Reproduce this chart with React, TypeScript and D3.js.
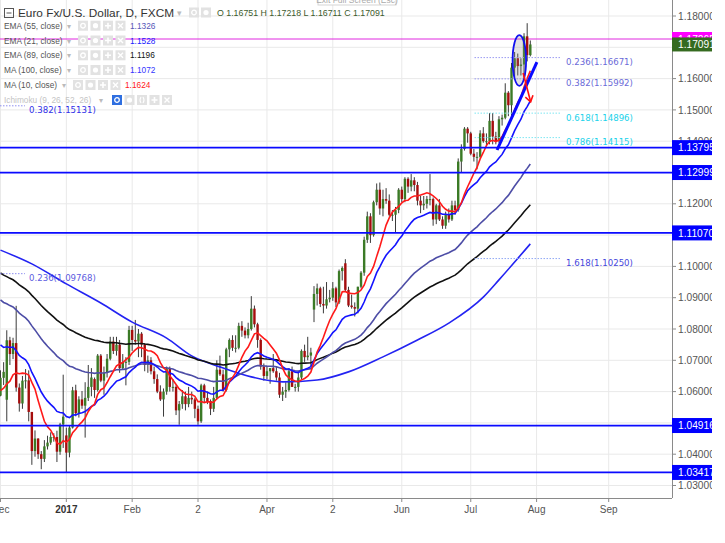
import React from "react";
import * as d3 from "d3";

// ---------- DATA (EUR/USD daily, FXCM) rows: [open, high, low, close] ----------
const dec2016: number[][] = [
  [1.0587, 1.0668, 1.0585, 1.0644], [1.0644, 1.0694, 1.0621, 1.0663], [1.0574, 1.0796, 1.0505, 1.0764],
  [1.0764, 1.0775, 1.0685, 1.072], [1.072, 1.0772, 1.0704, 1.0755], [1.0755, 1.0874, 1.06, 1.0613],
  [1.0613, 1.0626, 1.0536, 1.0562], [1.0562, 1.065, 1.0545, 1.0635], [1.0635, 1.0672, 1.061, 1.0636],
  [1.0636, 1.0668, 1.0505, 1.0535], [1.0535, 1.0535, 1.0366, 1.041], [1.041, 1.0476, 1.0392, 1.045],
  [1.045, 1.0451, 1.0385, 1.04], [1.04, 1.041, 1.0352, 1.0385], [1.0385, 1.0445, 1.0375, 1.0425],
  [1.0425, 1.0459, 1.0415, 1.0437], [1.0437, 1.047, 1.043, 1.0455], [1.0455, 1.0467, 1.044, 1.0455],
  [1.0455, 1.0475, 1.0375, 1.0408], [1.0408, 1.05, 1.0398, 1.0495], [1.0495, 1.0654, 1.042, 1.052],
];
const jan2017: number[][] = [
  [1.046, 1.0485, 1.0341, 1.0405], [1.0405, 1.0493, 1.039, 1.0485], [1.0485, 1.0615, 1.0482, 1.0604],
  [1.0604, 1.0622, 1.0521, 1.0531], [1.0531, 1.0585, 1.0517, 1.0575], [1.0575, 1.0602, 1.0545, 1.0555],
  [1.0555, 1.063, 1.0453, 1.058], [1.058, 1.0685, 1.057, 1.0615], [1.0615, 1.0675, 1.0585, 1.0645],
  [1.064, 1.0645, 1.058, 1.0605], [1.0605, 1.072, 1.06, 1.0715], [1.0715, 1.072, 1.063, 1.0635],
  [1.0635, 1.068, 1.059, 1.066], [1.066, 1.072, 1.0645, 1.0705], [1.0705, 1.0775, 1.07, 1.076],
  [1.076, 1.0775, 1.072, 1.073], [1.073, 1.0775, 1.0715, 1.075], [1.075, 1.0765, 1.066, 1.0675],
  [1.0675, 1.072, 1.067, 1.0695], [1.0695, 1.071, 1.062, 1.0695], [1.0695, 1.081, 1.0685, 1.0797],
];
const feb2017: number[][] = [
  [1.0797, 1.081, 1.073, 1.0765], [1.0765, 1.0829, 1.075, 1.076], [1.076, 1.08, 1.071, 1.0785],
  [1.0785, 1.079, 1.071, 1.075], [1.075, 1.0755, 1.0665, 1.0685], [1.0685, 1.0715, 1.066, 1.07],
  [1.07, 1.071, 1.0655, 1.0665], [1.0665, 1.068, 1.0625, 1.064], [1.064, 1.0655, 1.0595, 1.06],
  [1.06, 1.062, 1.057, 1.0575], [1.0575, 1.061, 1.052, 1.06], [1.06, 1.068, 1.059, 1.0675],
  [1.0675, 1.068, 1.06, 1.0615], [1.0615, 1.064, 1.06, 1.0615], [1.0615, 1.062, 1.0525, 1.054],
  [1.054, 1.057, 1.0494, 1.056], [1.056, 1.0605, 1.0545, 1.0585], [1.0585, 1.06, 1.054, 1.056],
  [1.056, 1.0615, 1.055, 1.058], [1.058, 1.06, 1.056, 1.0575],
];
const mar2017: number[][] = [
  [1.0575, 1.058, 1.0515, 1.0545], [1.0545, 1.0555, 1.0494, 1.0505], [1.0505, 1.0625, 1.05, 1.062],
  [1.062, 1.0625, 1.0565, 1.058], [1.058, 1.06, 1.056, 1.057], [1.057, 1.0575, 1.0525, 1.0545],
  [1.0545, 1.0615, 1.0535, 1.058], [1.058, 1.07, 1.0575, 1.067], [1.067, 1.0715, 1.065, 1.0655],
  [1.0655, 1.067, 1.06, 1.0605], [1.0605, 1.074, 1.06, 1.0735], [1.0735, 1.077, 1.071, 1.0765],
  [1.0765, 1.078, 1.073, 1.074], [1.074, 1.078, 1.0725, 1.074], [1.074, 1.082, 1.0735, 1.081],
  [1.081, 1.0825, 1.0775, 1.0795], [1.0795, 1.0805, 1.077, 1.078], [1.078, 1.082, 1.077, 1.08],
  [1.08, 1.0905, 1.0795, 1.0865], [1.0865, 1.0875, 1.0805, 1.0815], [1.0815, 1.082, 1.074, 1.0765],
  [1.0765, 1.077, 1.067, 1.068], [1.068, 1.069, 1.0635, 1.065],
];
const apr2017: number[][] = [
  [1.065, 1.068, 1.064, 1.0665], [1.0665, 1.0675, 1.0625, 1.0675], [1.0675, 1.072, 1.066, 1.0665],
  [1.0665, 1.068, 1.0635, 1.0645], [1.0645, 1.066, 1.058, 1.059], [1.059, 1.0615, 1.057, 1.06],
  [1.06, 1.063, 1.058, 1.0605], [1.0605, 1.0675, 1.06, 1.0665], [1.0665, 1.068, 1.0615, 1.0615],
  [1.0615, 1.0625, 1.06, 1.0615], [1.0615, 1.0665, 1.06, 1.0645], [1.0645, 1.0735, 1.064, 1.073],
  [1.073, 1.075, 1.0695, 1.071], [1.071, 1.0775, 1.07, 1.0715], [1.0715, 1.074, 1.068, 1.0725],
  [1.0862, 1.0937, 1.0822, 1.0912], [1.0912, 1.0945, 1.0875, 1.093], [1.093, 1.0935, 1.087, 1.088],
  [1.088, 1.0935, 1.085, 1.0875], [1.0875, 1.095, 1.0865, 1.0895],
];
const may2017: number[][] = [
  [1.0895, 1.0925, 1.0885, 1.09], [1.09, 1.095, 1.089, 1.093], [1.093, 1.0935, 1.087, 1.0885],
  [1.0885, 1.099, 1.088, 1.0985], [1.0985, 1.1, 1.0955, 1.0995], [1.101, 1.1023, 1.092, 1.0925],
  [1.0925, 1.0935, 1.087, 1.0875], [1.0875, 1.091, 1.0865, 1.087], [1.087, 1.0885, 1.084, 1.0865],
  [1.0865, 1.0935, 1.085, 1.0935], [1.0935, 1.0985, 1.093, 1.098], [1.098, 1.1095, 1.097, 1.1085],
  [1.1085, 1.1175, 1.1075, 1.116], [1.116, 1.117, 1.1075, 1.11], [1.11, 1.121, 1.1095, 1.1205],
  [1.1205, 1.1265, 1.1195, 1.1245], [1.1245, 1.1268, 1.1165, 1.1185], [1.1185, 1.1245, 1.116, 1.1215],
  [1.1215, 1.125, 1.12, 1.121], [1.121, 1.123, 1.116, 1.1165], [1.1165, 1.118, 1.1145, 1.1165],
  [1.1165, 1.119, 1.111, 1.118], [1.118, 1.125, 1.117, 1.1245],
];
const jun2017: number[][] = [
  [1.1245, 1.1255, 1.1205, 1.1215], [1.1215, 1.1285, 1.1205, 1.128], [1.128, 1.1285, 1.1235, 1.1255],
  [1.1255, 1.1295, 1.124, 1.1275], [1.1275, 1.1285, 1.124, 1.126], [1.126, 1.127, 1.1195, 1.121],
  [1.121, 1.1225, 1.117, 1.1195], [1.1195, 1.1225, 1.118, 1.12], [1.12, 1.1225, 1.1185, 1.1215],
  [1.1215, 1.1295, 1.1195, 1.1215], [1.1215, 1.122, 1.113, 1.115], [1.115, 1.12, 1.1135, 1.1195],
  [1.1195, 1.1215, 1.1145, 1.115], [1.115, 1.116, 1.112, 1.113], [1.113, 1.1175, 1.112, 1.1165],
  [1.1165, 1.1185, 1.114, 1.115], [1.115, 1.121, 1.1145, 1.1195], [1.1195, 1.121, 1.1165, 1.118],
  [1.118, 1.1345, 1.1175, 1.1335], [1.1335, 1.139, 1.13, 1.1375], [1.1375, 1.1445, 1.137, 1.144],
  [1.144, 1.1445, 1.1395, 1.1425],
];
const jul2017: number[][] = [
  [1.1425, 1.143, 1.1355, 1.136], [1.136, 1.1375, 1.1335, 1.135], [1.135, 1.1365, 1.131, 1.135],
  [1.135, 1.1435, 1.1345, 1.1425], [1.1425, 1.1445, 1.1395, 1.14], [1.14, 1.1425, 1.1385, 1.14],
  [1.14, 1.149, 1.139, 1.1465], [1.1465, 1.149, 1.139, 1.1415], [1.1415, 1.143, 1.139, 1.14],
  [1.14, 1.148, 1.1395, 1.147], [1.147, 1.1485, 1.145, 1.1475], [1.1475, 1.1585, 1.147, 1.1555],
  [1.1555, 1.156, 1.148, 1.1515], [1.1515, 1.165, 1.148, 1.1635], [1.1635, 1.1685, 1.1605, 1.1665],
  [1.1665, 1.168, 1.161, 1.164], [1.164, 1.1665, 1.161, 1.1645], [1.1645, 1.1745, 1.1605, 1.1735],
  [1.1735, 1.1777, 1.1655, 1.1675], [1.16751, 1.17218, 1.16711, 1.17091],
];
// closes before Dec 1 2016 (for the 10-day MA warm-up)
const novCloses = [1.0588, 1.0627, 1.0632, 1.0551, 1.0552, 1.059, 1.0615, 1.0645, 1.0589];
// EMA values at the first visible bar
const ema21Seed = 1.0749;
const ema55Seed = 1.0893;
const ema89Seed = 1.0979;
// MA(100) at bar indices
const ma100Idx = [0, 10, 21, 32, 42, 53, 61, 70, 80, 90, 101, 111, 122, 133, 143, 154, 159, 169];
const ma100Val = [1.1052, 1.1008, 1.0944, 1.0883, 1.0822, 1.0771, 1.0714, 1.0679, 1.0647, 1.0631, 1.0637,
  1.0663, 1.0711, 1.0765, 1.0819, 1.0902, 1.0957, 1.1072];

const startDate = "2016-12-01";
const endDate = "2017-09-02";
const skipDates = ["2016-12-26", "2017-01-02"];
const dateTickDates = ["2016-12-01", "2017-01-03", "2017-02-01", "2017-03-02", "2017-04-03", "2017-05-02",
  "2017-06-01", "2017-07-03", "2017-08-01", "2017-09-01"];
const dateTickLabels = ["Dec", "2017", "Feb", "2", "Apr", "2", "Jun", "Jul", "Aug", "Sep"];

const supportLevels = [1.13795, 1.12999, 1.1107, 1.04916, 1.03417];
const magentaLevel = 1.17265;
const rightFibRatios = [0.236, 0.382, 0.618, 0.786, 1.618];
const rightFibPrices = [1.16671, 1.15992, 1.14896, 1.14115, 1.1025];
const leftFibRatios = [0.382, 0.236];
const leftFibPrices = [1.15131, 1.09768];

const legendNames = ["EMA (55, close)", "EMA (21, close)", "EMA (89, close)", "MA (100, close)", "MA (10, close)"];
const legendValues = ["1.1326", "1.1528", "1.1196", "1.1072", "1.1624"];
const headerOHLC = ["1.16751", "1.17218", "1.16711", "1.17091"];

// drawings in data space [barIndex, price]
const trendFrom = [158.4, 1.13719];
const trendTo = [171.1, 1.1653];
const ellipseCenter = [165.5, 1.1658];
const ellipseHalf = [2.15, 0.0081];
const arrowFrom = [166.7, 1.1618];
const arrowTo = [169.1, 1.1526];

// ---------- helpers ----------
function emaSeries(vals: number[], period: number, seed: number) {
  const k = 2 / (period + 1);
  let e = seed;
  return vals.map((v, i) => (i === 0 ? e : (e = e + k * (v - e))));
}
function smaSeries(vals: number[], period: number, prior: number[]) {
  const all = prior.concat(vals);
  return vals.map((_, i) => d3.mean(all.slice(Math.max(0, i + prior.length - period + 1), i + prior.length + 1)) as number);
}

const FONT = "'Liberation Sans', Arial, sans-serif";

function Icon({ x, y, kind, blue }: { x: number; y: number; kind: string; blue?: boolean }) {
  const fill = blue ? "#2f6fe0" : "#e2e2e2";
  const g = "#fff";
  return (
    <g transform={`translate(${x},${y})`}>
      <rect x={0} y={-5} width={10} height={10} fill={fill} />
      {kind === "eye" && <circle cx={5} cy={0} r={2.3} fill="none" stroke={g} strokeWidth={1.3} />}
      {kind === "gear" && <circle cx={5} cy={0} r={2.6} fill={g} />}
      {kind === "plus" && <path d="M5,-3V3M2,0H8" stroke={g} strokeWidth={1.6} />}
      {kind === "x" && <path d="M2.5,-2.5L7.5,2.5M7.5,-2.5L2.5,2.5" stroke={g} strokeWidth={1.4} />}
      {kind === "paren" && <path d="M4,-3Q2,0 4,3M6,-3Q8,0 6,3" stroke={g} strokeWidth={1.1} fill="none" />}
    </g>
  );
}

export default function App() {
  const W = 725, H = 543;
  const plotR = 672, plotB = 498, clipR = 712;

  const rows = [...dec2016, ...jan2017, ...feb2017, ...mar2017, ...apr2017, ...may2017, ...jun2017, ...jul2017];
  const bars = rows.map((r, i) => ({ i, o: r[0], h: r[1], l: r[2], c: r[3] }));
  const closes = bars.map((b) => b.c);

  const fmtDay = d3.utcFormat("%Y-%m-%d");
  const calendar = d3.utcDay
    .range(new Date(startDate + "T00:00:00Z"), new Date(endDate + "T00:00:00Z"))
    .filter((d) => d.getUTCDay() !== 0 && d.getUTCDay() !== 6)
    .map(fmtDay)
    .filter((s) => !skipDates.includes(s));

  const x = d3.scaleLinear().domain([0, 100]).range([0.5, 0.5 + 313.5]);
  const y = d3.scaleLinear().domain([1.03, 1.18]).range([485.5, 16]);

  const ma10 = smaSeries(closes, 10, novCloses);
  const ema21 = emaSeries(closes, 21, ema21Seed);
  const ema55 = emaSeries(closes, 55, ema55Seed);
  const ema89 = emaSeries(closes, 89, ema89Seed);

  const lineGen = d3.line<number>().x((_, i) => x(i)).y((v) => y(v));
  const ma100Line = d3
    .line<number>()
    .x((_, i) => x(ma100Idx[i]))
    .y((v) => y(v))
    .curve(d3.curveMonotoneX);

  const priceTicks = d3.range(103, 119).map((v) => v / 100);
  const fmtP = d3.format(".5f");
  const lastClose = closes[closes.length - 1];
  const boxLevels = [...supportLevels, lastClose, magentaLevel];
  const visibleTicks = priceTicks.filter((p) => boxLevels.every((b) => Math.abs(y(b) - y(p)) > 5.5));

  const dateTicks = dateTickDates.map((d, k) => ({ idx: calendar.indexOf(d), label: dateTickLabels[k] }));

  const fibRightStart = 151.2, fibRightEnd = 178.5;
  const fibLeftEnd = 7.8;
  const rightLineCol = ["#9a9af2", "#9a9af2", "#7fe6f2", "#7fe6f2", "#8fa8f5"];
  const rightTextCol = ["#6a6ad8", "#6a6ad8", "#20d2ea", "#20d2ea", "#4646dc"];
  const leftTextCol = ["#3030e8", "#5c5ce0"];

  // arrow geometry
  const ax1 = x(arrowFrom[0]), ay1 = y(arrowFrom[1]), ax2 = x(arrowTo[0]), ay2 = y(arrowTo[1]);
  const ang = Math.atan2(ay2 - ay1, ax2 - ax1);
  const hl = 7;
  const head1 = [ax2 - hl * Math.cos(ang - 0.6), ay2 - hl * Math.sin(ang - 0.6)];
  const head2 = [ax2 - hl * Math.cos(ang + 0.6), ay2 - hl * Math.sin(ang + 0.6)];

  const legendY = [25.7, 40.5, 55.3, 70, 85];
  const legendValCol = ["#5656b8", "#1a1aff", "#111111", "#3535ff", "#ff2020"];

  return (
    <svg
      width={W}
      height={H}
      style={{ position: "absolute", left: 0, top: 0, background: "#fff", fontFamily: FONT }}
    >
      <defs>
        <clipPath id="plot">
          <rect x={0} y={0} width={plotR} height={plotB} />
        </clipPath>
      </defs>
      <rect x={0} y={0} width={W} height={H} fill="#fff" />

      <g clipPath="url(#plot)">
        {/* grid */}
        {priceTicks.map((p) => (
          <line key={"h" + p} x1={0} x2={plotR} y1={y(p)} y2={y(p)} stroke="#e9e9e9" strokeWidth={1} />
        ))}
        {dateTicks.map((t) => (
          <line key={"v" + t.idx} x1={x(t.idx)} x2={x(t.idx)} y1={0} y2={plotB} stroke="#e9e9e9" strokeWidth={1} />
        ))}

        {/* magenta line */}
        <line x1={0} x2={plotR} y1={y(magentaLevel)} y2={y(magentaLevel)} stroke="#e028e0" strokeWidth={1} />

        {/* candles */}
        {bars.map((b) => {
          const cx = x(b.i);
          const up = b.c >= b.o;
          const top = y(Math.max(b.o, b.c));
          const bh = Math.max(1, Math.abs(y(b.o) - y(b.c)));
          return (
            <g key={"c" + b.i}>
              <line x1={cx} x2={cx} y1={y(b.h)} y2={y(b.l)} stroke="#3a3a3a" strokeWidth={1} />
              <rect x={cx - 1.2} y={top} width={2.4} height={bh} fill={up ? "#3b7a26" : "#a50d0d"} />
            </g>
          );
        })}

        {/* moving averages */}
        <path d={ma100Line(ma100Val) || ""} fill="none" stroke="#2323f2" strokeWidth={1.6} />
        <path d={lineGen(ema89) || ""} fill="none" stroke="#111" strokeWidth={1.6} />
        <path d={lineGen(ema55) || ""} fill="none" stroke="#4d4da6" strokeWidth={1.6} />
        <path d={lineGen(ema21) || ""} fill="none" stroke="#1414ff" strokeWidth={1.6} />
        <path d={lineGen(ma10) || ""} fill="none" stroke="#ff1a1a" strokeWidth={1.6} />

        {/* support / resistance lines */}
        {supportLevels.map((p) => (
          <line key={"s" + p} x1={0} x2={plotR} y1={y(p)} y2={y(p)} stroke="#0a0aff" strokeWidth={1.8} />
        ))}

        {/* fibonacci levels */}
        {rightFibPrices.map((p, k) => (
          <g key={"rf" + k}>
            <line x1={x(fibRightStart)} x2={x(fibRightEnd)} y1={y(p)} y2={y(p)} stroke={rightLineCol[k]}
              strokeWidth={1} strokeDasharray="1.5,1.5" />
            <text x={x(fibRightEnd) + 6} y={y(p) + 7.5} fontSize={8.6} fill={rightTextCol[k]}
              fontFamily="'DejaVu Sans', Verdana, sans-serif">
              {`${rightFibRatios[k].toFixed(3)}(${fmtP(p)})`}
            </text>
          </g>
        ))}
        {leftFibPrices.map((p, k) => (
          <g key={"lf" + k}>
            <line x1={0} x2={x(fibLeftEnd)} y1={y(p)} y2={y(p)} stroke="#8f8ff0" strokeWidth={1} strokeDasharray="1.5,1.5" />
            <text x={29} y={y(p) + 7.5} fontSize={8.6} fill={leftTextCol[k]} fontFamily="'DejaVu Sans', Verdana, sans-serif">
              {`${leftFibRatios[k].toFixed(3)}(${fmtP(p)})`}
            </text>
          </g>
        ))}

        {/* drawings */}
        <ellipse cx={x(ellipseCenter[0])} cy={y(ellipseCenter[1])}
          rx={x(ellipseCenter[0] + ellipseHalf[0]) - x(ellipseCenter[0])}
          ry={y(ellipseCenter[1] - ellipseHalf[1]) - y(ellipseCenter[1])}
          fill="rgba(140,140,140,0.25)" stroke="#1010f0" strokeWidth={1.8} />
        <line x1={x(trendFrom[0])} y1={y(trendFrom[1])} x2={x(trendTo[0])} y2={y(trendTo[1])} stroke="#0a0aff" strokeWidth={3} />
        <line x1={ax1} y1={ay1} x2={ax2} y2={ay2} stroke="#ff1010" strokeWidth={1.6} />
        <path d={`M${head1[0]},${head1[1]}L${ax2},${ay2}L${head2[0]},${head2[1]}`} fill="none" stroke="#ff1010" strokeWidth={1.6} />
      </g>

      {/* header */}
      <g>
        <rect x={4.5} y={8.5} width={9} height={9} fill="none" stroke="#555" strokeWidth={1} />
        <line x1={6.5} x2={11.5} y1={13} y2={13} stroke="#555" strokeWidth={1} />
        <text x={18} y={17} fontSize={11.8} fill="#333">Euro Fx/U.S. Dollar, D, FXCM</text>
        <text x={177} y={16} fontSize={9} fill="#bbb">▾</text>
        <Icon x={189} y={12.5} kind="eye" />
        <Icon x={201} y={12.5} kind="gear" />
        <text x={217} y={16} fontSize={8.8} fill="#3c5a2c">
          {`O ${headerOHLC[0]} H ${headerOHLC[1]} L ${headerOHLC[2]} C ${headerOHLC[3]}`}
        </text>
        {/* tooltip remnant */}
        <rect x={318} y={-9} width={78} height={14} fill="#fff" stroke="#d5d5d5" />
        <text x={357} y={3} fontSize={8.5} fill="#aaa" textAnchor="middle">Exit Full Screen (Esc)</text>
      </g>

      {/* legend */}
      {legendNames.map((n, k) => {
        const iconX = k === 4 ? 73 : 78;
        const valX = k === 4 ? 125 : 130;
        return (
          <g key={"lg" + k}>
            <text x={4} y={legendY[k] + 3} fontSize={8.3} fill="#555">{n}</text>
            <text x={iconX - 11} y={legendY[k] + 3} fontSize={8} fill="#bbb">▾</text>
            <Icon x={iconX} y={legendY[k]} kind="eye" />
            <Icon x={iconX + 12.5} y={legendY[k]} kind="gear" />
            <Icon x={iconX + 25} y={legendY[k]} kind="plus" />
            <Icon x={iconX + 37.5} y={legendY[k]} kind="x" />
            <text x={valX} y={legendY[k] + 3} fontSize={8.3} fill={legendValCol[k]}>{legendValues[k]}</text>
          </g>
        );
      })}
      <g>
        <text x={4} y={103} fontSize={8.3} fill="#c4c4c4">Ichimoku (9, 26, 52, 26)</text>
        <text x={99} y={103} fontSize={8} fill="#bbb">▾</text>
        <Icon x={112} y={100} kind="eye" blue />
        <Icon x={124.5} y={100} kind="gear" />
        <Icon x={137} y={100} kind="paren" />
        <Icon x={149.5} y={100} kind="plus" />
        <Icon x={162} y={100} kind="x" />
      </g>

      {/* axes */}
      <rect x={plotR} y={0} width={W - plotR} height={H} fill="#fff" />
      <line x1={plotR + 0.5} x2={plotR + 0.5} y1={0} y2={plotB} stroke="#8a8a8a" strokeWidth={1} />
      <line x1={0} x2={plotR} y1={plotB + 0.5} y2={plotB + 0.5} stroke="#8a8a8a" strokeWidth={1} />
      {visibleTicks.map((p) => (
        <g key={"pt" + p}>
          <line x1={plotR} x2={plotR + 4} y1={y(p)} y2={y(p)} stroke="#8a8a8a" />
          <text x={678} y={y(p) + 3.6} fontSize={10.2} fill="#555">{fmtP(p)}</text>
        </g>
      ))}
      {dateTicks.map((t) => (
        <g key={"dt" + t.idx}>
          <line x1={x(t.idx)} x2={x(t.idx)} y1={plotB} y2={plotB + 4} stroke="#8a8a8a" />
          <text x={x(t.idx)} y={513} fontSize={10} textAnchor="middle" fill={t.label === "2017" ? "#333" : "#555"}
            fontWeight={t.label === "2017" ? "bold" : "normal"}>
            {t.label}
          </text>
        </g>
      ))}

      {/* price label boxes */}
      <rect x={plotR} y={y(magentaLevel) - 7} width={W - plotR} height={14} fill="#ff00ff" />
      <text x={678} y={y(magentaLevel) + 3.6} fontSize={10.2} fill="#fff">{fmtP(magentaLevel)}</text>
      <rect x={plotR} y={y(lastClose) - 7} width={W - plotR} height={14} fill="#356b20" />
      <text x={678} y={y(lastClose) + 3.6} fontSize={10.2} fill="#fff">{fmtP(lastClose)}</text>
      {supportLevels.map((p) => (
        <g key={"sl" + p}>
          <rect x={plotR} y={y(p) - 7.5} width={W - plotR} height={15} fill="#0000ff" />
          <text x={678} y={y(p) + 3.6} fontSize={10.2} fill="#fff">{fmtP(p)}</text>
        </g>
      ))}
      <rect x={clipR} y={0} width={W - clipR} height={H} fill="#fff" />
    </svg>
  );
}
